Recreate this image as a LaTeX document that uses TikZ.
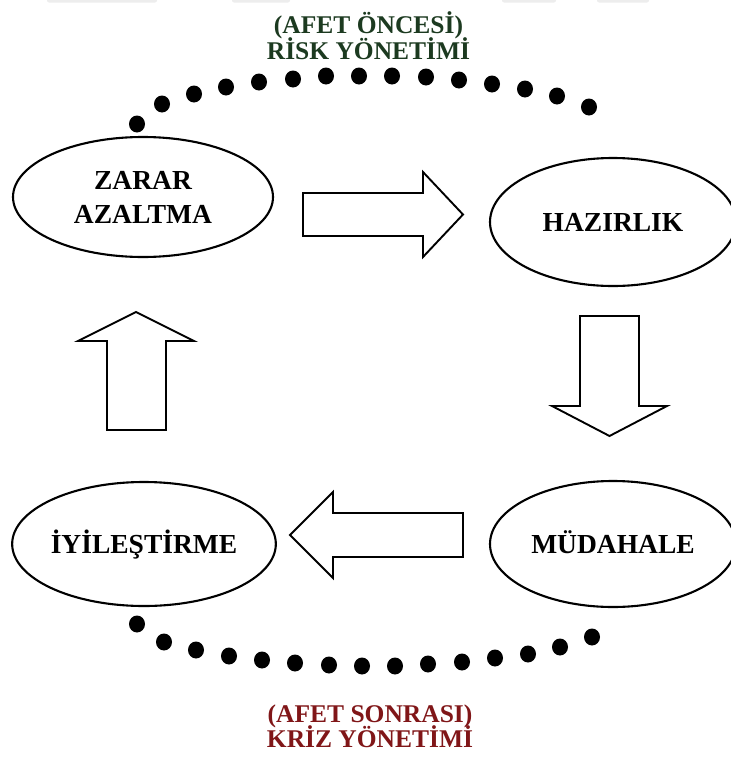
\documentclass[tikz,border=0pt]{standalone}
\usepackage{fontspec}
\setmainfont{Liberation Serif}
\usetikzlibrary{shapes.geometric}
\definecolor{oncegreen}{RGB}{28,58,32}
\definecolor{sonrared}{RGB}{128,22,24}

\begin{document}
\begin{tikzpicture}[x=1pt, y=-1pt,
    evre/.style={ellipse, draw, line width=2.1pt, minimum width=260pt, minimum height=120pt,
        inner sep=0pt, align=center, font=\fontsize{27.5}{34}\selectfont\bfseries},
    blok/.style={draw, line width=1.9pt, line join=miter, fill=white},
    nokta/.style={ellipse, fill=black, minimum width=16pt, minimum height=17pt, inner sep=0pt},
    baslik/.style={anchor=base, inner sep=0pt, font=\fontsize{25.5}{25.5}\selectfont\bfseries}
]
\useasboundingbox (0,0) rectangle (731,758);

% sayfa üstünden kalan izler
\foreach \a/\b in {47/157, 232/290, 502/556, 597/649}
    \fill[gray!14, rounded corners=2pt] (\a,-4) rectangle (\b,2.5);

% evreler
\node[evre] (zarar) at (143,197) {ZARAR\\AZALTMA};
\node[evre, minimum width=246pt, minimum height=128pt] (hazirlik) at (613,222) {HAZIRLIK};
\node[evre, minimum width=246pt, minimum height=126pt, text height=18.5pt, text depth=0pt] (mudahale) at (613,544) {MÜDAHALE};
\node[evre, minimum height=124pt, text height=18.5pt, text depth=0pt] (iyilestirme) at (144,544) {İYİLEŞTİRME};

% oklar
\draw[blok] (303,193) -- (423,193) -- (423,172) -- (463,214.5) -- (423,257) -- (423,236) -- (303,236) -- cycle;
\draw[blok] (580,316) -- (639,316) -- (639,406) -- (667,406) -- (609.5,436) -- (552,406) -- (580,406) -- cycle;
\draw[blok] (463,513) -- (333,513) -- (333,492) -- (290,535) -- (333,578) -- (333,557) -- (463,557) -- cycle;
\draw[blok] (107,430) -- (107,341) -- (78,341) -- (136,312) -- (194,341) -- (166,341) -- (166,430) -- cycle;

% noktalı yaylar
\foreach \p in {(137,124),(162,104),(194,94),(226,87),(259,82),(293,79),(326,76),(359,76),
                (392,76),(426,77),(459,80),(492,84),(525,89),(557,96),(589,107)}
    \node[nokta] at \p {};
\foreach \p in {(137,624),(164,642),(196,650),(229,656),(262,660),(295,663),(329,665),(362,666),
                (395,666),(428,664),(462,662),(495,658),(528,654),(560,647),(592,637)}
    \node[nokta] at \p {};

% başlıklar
\node[baslik, text=oncegreen] (oncesi) at (368.5,33) {(AFET ÖNCESİ)};
\node[baslik, text=oncegreen] (risk) at (368.5,59) {RİSK YÖNETİMİ};
\node[baslik, text=sonrared] (sonrasi) at (370,722) {(AFET SONRASI)};
\node[baslik, text=sonrared] (kriz) at (370,747) {KRİZ YÖNETİMİ};

\end{tikzpicture}
\end{document}
